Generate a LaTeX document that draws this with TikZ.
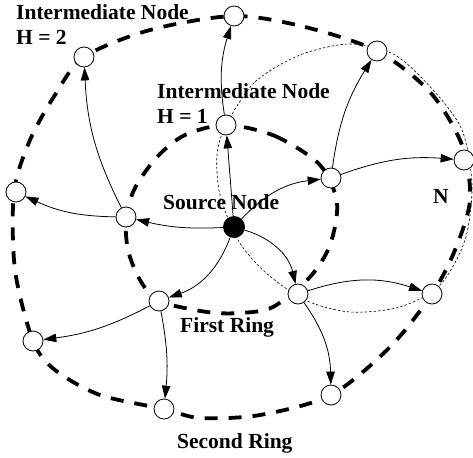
\documentclass[tikz,border=0pt]{standalone}
\usepackage{fontspec}
\setmainfont{Liberation Serif}
\usetikzlibrary{arrows.meta,backgrounds}

\begin{document}
\begin{tikzpicture}[x=1pt,y=-1pt,
  relay/.style={circle,draw,fill=white,line width=0.8pt,minimum size=20pt,inner sep=0pt},
  source/.style={circle,fill=black,minimum size=22pt,inner sep=0pt},
  hop/.style={-{Triangle[length=13pt,width=8.5pt]},line width=0.8pt},
  ring/.style={line width=3.8pt,dash pattern=on 13pt off 11pt},
  zone/.style={line width=0.6pt,dash pattern=on 2.5pt off 2pt},
  tag/.style={font=\bfseries\fontsize{21.5}{25}\selectfont,inner sep=0pt}]
\useasboundingbox (0,0) rectangle (473,457);
\node[source] (src) at (234,227) {};
\node[relay] (a1) at (226,125) {};
\node[relay] (a2) at (331,178) {};
\node[relay] (a3) at (298,294) {};
\node[relay] (a4) at (159,301) {};
\node[relay] (a5) at (126,217) {};
\node[relay] (b1) at (234,16) {};
\node[relay] (b2) at (377,51) {};
\node[relay] (b3) at (464,160) {};
\node[relay] (b4) at (432,294) {};
\node[relay] (b5) at (331,395) {};
\node[relay] (b6) at (164,409) {};
\node[relay] (b7) at (33,341) {};
\node[relay] (b8) at (16,192) {};
\node[relay] (b9) at (84,57) {};
\begin{scope}[on background layer]
\draw[ring] plot[smooth cycle] coordinates {(226,125) (275,136) (320,165) (337,203)
  (330,245) (310,277) (273,307) (240,313) (207,312) (159,301) (140,280) (128,250)
  (126,217) (135,188) (157,157) (185,135)};
\draw[ring] plot[smooth cycle] coordinates {(234,16) (305,27) (377,51) (430,92)
  (462,145) (470,200) (455,250) (432,294) (390,347) (331,395) (260,415) (200,418)
  (164,409) (100,395) (55,370) (33,341) (15,270) (14,192) (30,140) (55,95) (84,57)
  (150,30)};
\draw[zone] plot[smooth cycle] coordinates {(226,125) (255,82) (300,55) (350,44)
  (395,55) (433,90) (462,130) (472,185) (465,240) (440,285) (400,307) (350,312)
  (305,300) (265,272) (238,240) (220,195) (217,155)};
\end{scope}
\draw[hop] (src) to (a1);
\draw[hop] (src) to[bend left=20] (a2);
\draw[hop] (src) to[bend left=30] (a3);
\draw[hop] (src) to[bend left=25] (a4);
\draw[hop] (src) to[bend left=8] (a5);
\draw[hop] (a1) to[bend left=13] (b1);
\draw[hop] (a2) to[bend left=12] (b2);
\draw[hop] (a2) to[bend left=12] (b3);
\draw[hop] (a3) to[bend left=18] (b4);
\draw[hop] (a3) to[bend left=17] (b5);
\draw[hop] (a4) to[bend left=8] (b6);
\draw[hop] (a4) to[bend left=10] (b7);
\draw[hop] (a5) to[bend left=12] (b8);
\draw[hop] (a5) to[bend left=12] (b9);
\node[tag,anchor=north west,align=left] (hoptwo) at (16,4) {Intermediate Node\\H = 2};
\node[tag,anchor=north west,align=left] (hopone) at (157,83) {Intermediate Node\\H = 1};
\node[tag,anchor=base west] (srclabel) at (163,209) {Source Node};
\node[tag,anchor=base west] (nlabel) at (433,203) {N};
\node[tag,anchor=base west] (firstlabel) at (180,332) {First Ring};
\node[tag,anchor=base west] (secondlabel) at (177,448) {Second Ring};
\end{tikzpicture}
\end{document}
